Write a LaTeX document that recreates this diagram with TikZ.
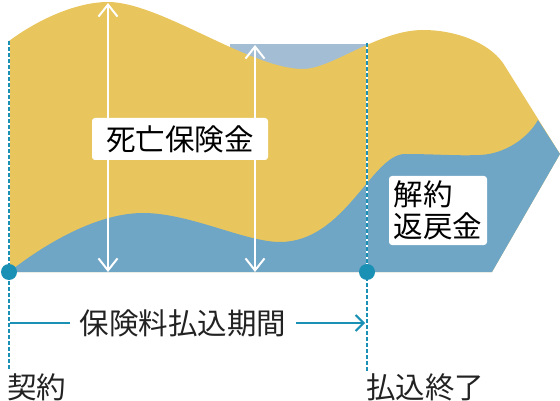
\documentclass[tikz,border=0pt]{standalone}
\usepackage{fontspec}
\setmainfont{Noto Sans CJK JP}
\usetikzlibrary{arrows.meta}
\definecolor{gold}{HTML}{E8C65D}
\definecolor{steel}{HTML}{6FA5C5}
\definecolor{pale}{HTML}{A3BDD5}
\definecolor{teal}{HTML}{1A90B4}
\definecolor{ink}{HTML}{222222}

\begin{document}
\begin{tikzpicture}[x=1pt,y=-1pt,
        lbl/.style={fill=white,rounded corners=3pt,inner sep=0pt,text=black,
            font=\fontsize{29.5}{32}\selectfont},
        caption/.style={inner sep=0pt,text=ink,font=\fontsize{29.5}{32}\selectfont},
        amount/.style={white,line width=2pt,{Straight Barb[length=12pt,width=19pt]}-{Straight Barb[length=12pt,width=19pt]}},
        period/.style={teal,line width=2pt},
        marker/.style={teal,line width=2pt,dash pattern=on 4pt off 2pt},
        dot/.style={circle,fill=teal,minimum size=16pt,inner sep=0pt}]
        \useasboundingbox (0,0) rectangle (560,401);
        \fill[pale] (230,44) rectangle (367,85);
        \fill[gold] (9,272) -- (9,41) .. controls (40,18) and (78,2) .. (108,2)
            .. controls (160,2) and (250,69) .. (303,69)
            .. controls (332,69) and (378,30) .. (423,30)
            .. controls (455,30) and (488,42) .. (503,63)
            -- (560,154) -- (492,272) -- cycle;
        \fill[steel] (9,272) .. controls (50,240) and (100,213) .. (143,213)
            .. controls (190,213) and (245,242) .. (280,242)
            .. controls (345,242) and (372,154) .. (405,154)
            .. controls (435,154) and (455,156) .. (480,155)
            .. controls (505,154) and (528,138) .. (538,120)
            -- (560,154) -- (492,272) -- cycle;
        \coordinate (a1t) at (108,3);
        \coordinate (a1b) at (108,272);
        \coordinate (a2t) at (255,45);
        \coordinate (a2b) at (255,272);
        \draw[amount] (a1t) -- (a1b);
        \draw[amount] (a2t) -- (a2b);
        \node[lbl,minimum width=176pt,minimum height=42pt] (death) at (180,139) {死亡保険金};
        \node[lbl,minimum width=98pt,minimum height=69pt,align=left] (refund) at (438,210.5) {解約\\返戻金};
        \coordinate (m1t) at (9,41);
        \coordinate (m1b) at (9,370);
        \coordinate (m2t) at (367,43);
        \coordinate (m2b) at (367,372);
        \draw[white,line width=2pt] (m1t) -- (m1b);
        \draw[white,line width=2pt] (m2t) -- (m2b);
        \draw[marker] (m1t) -- (m1b);
        \draw[marker] (m2t) -- (m2b);
        \node[dot] (start) at (9,272) {};
        \node[dot] (end) at (367,272) {};
        \node[caption] (term) at (183,323) {保険料払込期間};
        \coordinate (p1) at (10,323);
        \coordinate (p2) at (365,323);
        \draw[period] (p1) -- ([xshift=-10pt]term.west);
        \draw[period,-{Straight Barb[length=8pt,width=16pt]}] ([xshift=10pt]term.east) -- (p2);
        \node[caption,anchor=west] (contract) at (7,387) {契約};
        \node[caption,anchor=west] (paid) at (366,387) {払込終了};
    \end{tikzpicture}
\end{document}
